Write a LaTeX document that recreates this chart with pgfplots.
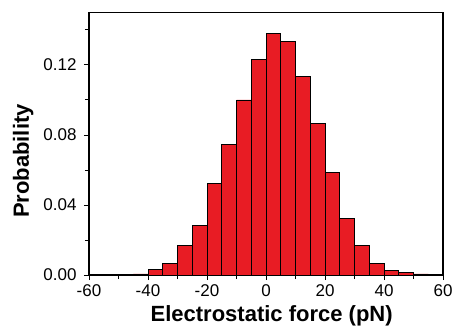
\documentclass[border=0pt]{standalone}
\usepackage{pgfplots}
\pgfplotsset{compat=1.18}
\usepackage{fontspec}
\setmainfont{Liberation Sans}
\definecolor{barred}{RGB}{232,28,36}
\begin{document}
\begin{tikzpicture}
\path[use as bounding box] (0,0) rectangle (455bp,330bp);
\begin{axis}[
  at={(89bp,55bp)}, anchor=south west,
  scale only axis, width=354bp, height=262.5bp,
  xmin=-60, xmax=60, ymin=0, ymax=0.15,
  xtick={-60,-40,...,60}, minor xtick={-50,-30,...,50},
  ytick={0,0.04,0.08,0.12}, minor ytick={0.02,0.06,0.10,0.14},
  xtick pos=bottom, ytick pos=left, tick align=outside,
  major tick length=5bp, minor tick length=4bp,
  every tick/.style={black, line width=1pt},
  axis line style={line width=1.4pt},
  /pgf/number format/assume math mode=true,
  yticklabel style={/pgf/number format/fixed, /pgf/number format/fixed zerofill, /pgf/number format/precision=2},
  scaled y ticks=false,
  ticklabel style={font=\fontsize{17bp}{20bp}\selectfont},
  xticklabel style={yshift=-1bp},
  yticklabel style={xshift=-4bp},
  xlabel={\textbf{Electrostatic force (pN)}},
  ylabel={\textbf{Probability}},
  label style={font=\fontsize{22bp}{25bp}\selectfont},
  xlabel style={at={(axis description cs:0.516,-0.178)}, anchor=base},
  ylabel style={at={(axis description cs:-0.186,0.434)}, anchor=center, rotate=0},
]
\addplot[ybar interval, fill=barred, draw=black, line width=0.8pt] coordinates {
(-50,0.0003) (-45,0.0006) (-40,0.0032) (-35,0.0068) (-30,0.0169) (-25,0.0283)
(-20,0.0524) (-15,0.0746) (-10,0.1000) (-5,0.1234) (0,0.1382) (5,0.1334)
(10,0.1133) (15,0.0864) (20,0.0585) (25,0.0321) (30,0.0171) (35,0.0066)
(40,0.0028) (45,0.0013) (50,0.0006) (55,0)
};
\end{axis}
\end{tikzpicture}
\end{document}
